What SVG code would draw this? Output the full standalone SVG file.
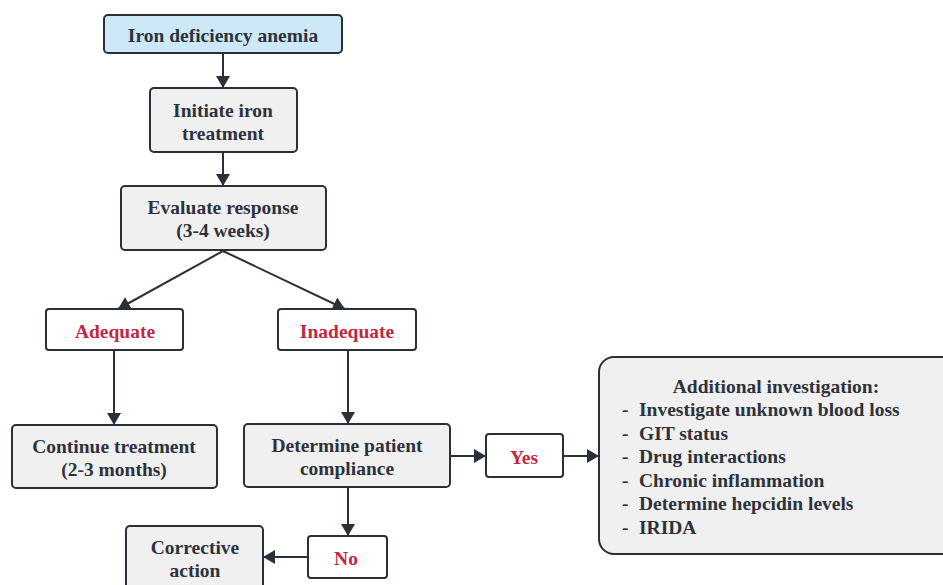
<svg xmlns="http://www.w3.org/2000/svg" width="943" height="585" viewBox="0 0 943 585">
<style>
.box{fill:#f0f0f0;stroke:#2b2f38;stroke-width:2}
.blue{fill:#cde9f8;stroke:#2b2f38;stroke-width:2}
.lbl{fill:#ffffff;stroke:#2b2f38;stroke-width:2}
text{font-family:"Liberation Serif","Times New Roman",serif;font-weight:bold;font-size:19.5px;fill:#2d323c;text-anchor:middle;dominant-baseline:central}
text.red{fill:#c4283f}
text.l{text-anchor:start}
.con line{stroke:#2b2f38;stroke-width:2;marker-end:url(#ah)}
</style>
<defs>
<marker id="ah" viewBox="0 0 12 14" refX="12" refY="7" markerWidth="12" markerHeight="14" markerUnits="userSpaceOnUse" orient="auto">
<path d="M0,0 L12,7 L0,14 Z" fill="#2b2f38"/>
</marker>
</defs>
<g class="con">
<line x1="223" y1="53" x2="223" y2="88"/>
<line x1="223" y1="152" x2="223" y2="186"/>
<line x1="223" y1="251" x2="118" y2="309"/>
<line x1="223" y1="251" x2="345" y2="309"/>
<line x1="114" y1="350" x2="114" y2="425"/>
<line x1="348" y1="350" x2="348" y2="424"/>
<line x1="348" y1="487" x2="348" y2="536"/>
<line x1="308" y1="557" x2="263" y2="557"/>
<line x1="450" y1="456" x2="486" y2="456"/>
<line x1="563" y1="456" x2="599" y2="456"/>
</g>
<g id="n1"><rect class="blue" x="104" y="15" width="238" height="38" rx="4"/><text x="223" y="35">Iron deficiency anemia</text></g>
<g id="n2"><rect class="box" x="150" y="88" width="147" height="64" rx="4"/><text x="223" y="110">Initiate iron</text><text x="223" y="133">treatment</text></g>
<g id="n3"><rect class="box" x="121" y="186" width="205" height="64" rx="4"/><text x="223" y="207">Evaluate response</text><text x="223" y="230">(3-4 weeks)</text></g>
<g id="n4"><rect class="lbl" x="46" y="309" width="137" height="41" rx="3"/><text class="red" x="115" y="331">Adequate</text></g>
<g id="n5"><rect class="lbl" x="278" y="309" width="138" height="41" rx="3"/><text class="red" x="347" y="331">Inadequate</text></g>
<g id="n6"><rect class="box" x="12" y="425" width="205" height="63" rx="4"/><text x="114" y="446">Continue treatment</text><text x="114" y="469">(2-3 months)</text></g>
<g id="n7"><rect class="box" x="244" y="424" width="206" height="63" rx="4"/><text x="347" y="445">Determine patient</text><text x="347" y="468">compliance</text></g>
<g id="n8"><rect class="lbl" x="486" y="434" width="77" height="43" rx="3"/><text class="red" x="524" y="457">Yes</text></g>
<g id="n9"><rect class="lbl" x="308" y="536" width="79" height="42" rx="3"/><text class="red" x="346" y="558">No</text></g>
<g id="n10"><rect class="box" x="126" y="526" width="137" height="70" rx="4"/><text x="195" y="547">Corrective</text><text x="195" y="570">action</text></g>
<g id="n11"><rect class="box" x="599" y="357" width="360" height="197" rx="15"/>
<text x="776" y="386">Additional investigation:</text>
<text class="l" x="622" y="409">-</text><text class="l" x="639" y="409">Investigate unknown blood loss</text>
<text class="l" x="622" y="433">-</text><text class="l" x="639" y="433">GIT status</text>
<text class="l" x="622" y="456">-</text><text class="l" x="639" y="456">Drug interactions</text>
<text class="l" x="622" y="480">-</text><text class="l" x="639" y="480">Chronic inflammation</text>
<text class="l" x="622" y="503">-</text><text class="l" x="639" y="503">Determine hepcidin levels</text>
<text class="l" x="622" y="527">-</text><text class="l" x="639" y="527">IRIDA</text>
</g>
</svg>
